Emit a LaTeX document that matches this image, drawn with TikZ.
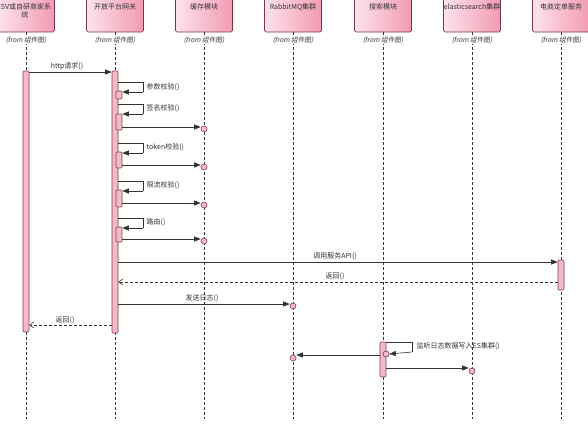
\documentclass[tikz,border=0pt]{standalone}
\usepackage{fontspec}
\setmainfont{Noto Sans CJK SC}
\newfontfamily\slfont{Noto Sans CJK SC}[FakeSlant=0.2]
\usetikzlibrary{arrows.meta}
\definecolor{boxL}{HTML}{FDE3EA}
\definecolor{boxR}{HTML}{F29AB4}
\definecolor{boxB}{HTML}{7A3546}
\definecolor{barF}{HTML}{F5BAC7}
\definecolor{barB}{HTML}{7E3E4E}
\definecolor{ln}{HTML}{333333}
\begin{document}
\begin{tikzpicture}[x=1pt,y=-1pt,
  lbox/.style={draw=boxB, line width=0.7pt, rounded corners=1.5pt, left color=boxL, right color=boxR, minimum width=57pt, minimum height=34pt, inner sep=0pt},
  lbl/.style={font=\fontsize{7}{8.2}\selectfont, text=ln, inner sep=0.5pt},
  fromlbl/.style={font=\slfont\fontsize{6.6}{7.6}\selectfont, text=ln, fill=white, inner sep=1pt},
  lifeline/.style={draw=ln, line width=0.6pt, dash pattern=on 3pt off 2pt},
  actbar/.style={draw=barB, fill=barF, line width=0.6pt, rounded corners=1pt, minimum width=6pt, inner sep=0pt},
  endcirc/.style={circle, draw=barB, fill=barF, line width=0.6pt, minimum size=6pt, inner sep=0pt},
  msg/.style={draw=ln, line width=0.6pt, -{Triangle[length=6.5pt,width=5pt]}},
  ret/.style={draw=ln, line width=0.6pt, dash pattern=on 3pt off 2pt, -{Straight Barb[length=4pt,width=6pt]}},
  loopline/.style={draw=ln, line width=0.6pt}
]
\clip (0,0) rectangle (588,428);
\fill[white] (0,0) rectangle (588,428);

% lifeline heads
\foreach \n/\x in {1/26,2/115,3/204,4/293,5/383,6/472,7/561}{
  \node[lbox] (L\n) at (\x,15) {};
  \coordinate (E\n) at (\x,419);
  \draw[lifeline] (L\n.south) -- (E\n);
  \node[fromlbl] (F\n) at (\x,40) {(from 组件图)};
}
\node[lbl, anchor=north, align=center] (T1) at (25,2.5) {ISV或自研商家系\\统};
\node[lbl, anchor=north] (T2) at (115,2.5) {开放平台网关};
\node[lbl, anchor=north] (T3) at (204,2.5) {缓存模块};
\node[lbl, anchor=north] (T4) at (293,2.5) {RabbitMQ集群};
\node[lbl, anchor=north] (T5) at (383,2.5) {搜索模块};
\node[lbl, anchor=north] (T6) at (472,2.5) {elasticsearch集群};
\node[lbl, anchor=north] (T7) at (561,2.5) {电商定单服务};

% activation bars
\node[actbar, minimum height=261pt] (B1) at (26,201.5) {};
\node[actbar, minimum height=262pt] (B2) at (115,202) {};
\node[actbar, minimum height=8pt]  (N1) at (119,95) {};
\node[actbar, minimum height=16pt] (N2) at (119,122) {};
\node[actbar, minimum height=16pt] (N3) at (119,160) {};
\node[actbar, minimum height=17pt] (N4) at (119,198.5) {};
\node[actbar, minimum height=15pt] (N5) at (119,234.5) {};
\node[actbar, minimum height=30pt] (B7) at (561,275) {};
\node[actbar, minimum height=35pt] (B5) at (383,359.5) {};

% end circles
\node[endcirc] (C1) at (204,129) {};
\node[endcirc] (C2) at (204,167) {};
\node[endcirc] (C3) at (204,205) {};
\node[endcirc] (C4) at (204,241) {};
\node[endcirc] (C5) at (293,306) {};
\node[endcirc] (C6) at (293,358) {};
\node[endcirc] (C7) at (472,371) {};
\node[endcirc] (C8) at (386,354) {};

% http request
\draw[msg] (B1.east |- 0,72) -- (B2.west |- 0,72);
\node[lbl] (m0) at (67,66) {http请求()};

% self loops on gateway
\foreach \yt/\yb/\yl/\t/\n in {82/92/87/参数校验()/N1, 104/114/108/签名校验()/N2, 143/153/147/token校验()/N3, 181/191/185/限流校验()/N4, 218/228/222/路由()/N5}{
  \draw[loopline] (B2.east |- 0,\yt) -- (143,\yt) -- (143,\yb);
  \draw[msg] (143,\yb) -- (\n.east |- 0,\yb);
  \node[lbl, anchor=west] at (146,\yl) {\t};
}

% calls to cache
\draw[msg] (N2.east |- 0,127) -- (C1.west |- 0,127);
\draw[msg] (N3.east |- 0,165) -- (C2.west |- 0,165);
\draw[msg] (N4.east |- 0,203) -- (C3.west |- 0,203);
\draw[msg] (N5.east |- 0,239) -- (C4.west |- 0,239);

% service API
\draw[msg] (B2.east |- 0,262) -- (B7.west |- 0,262);
\node[lbl] (m1) at (335,256) {调用服务API()};
\draw[ret] (B7.west |- 0,282) -- (B2.east |- 0,282);
\node[lbl] (m2) at (335,276) {返回()};

% send log
\draw[msg] (B2.east |- 0,304) -- (C5.west |- 0,304);
\node[lbl] (m3) at (202,298) {发送日志()};

% return to client
\draw[ret] (B2.west |- 0,325) -- (B1.east |- 0,325);
\node[lbl] (m4) at (65,320) {返回()};

% search module
\draw[loopline] (B5.east |- 0,342) -- (412,342) -- (412,352);
\draw[msg] (412,352) -- (C8.east);
\node[lbl, anchor=west] (m5) at (416,346) {监听日志数据写入ES集群()};
\draw[msg] (B5.west |- 0,355) -- (C6.east |- 0,355);
\draw[msg] (B5.east |- 0,368) -- (C7.west |- 0,368);
\end{tikzpicture}
\end{document}
